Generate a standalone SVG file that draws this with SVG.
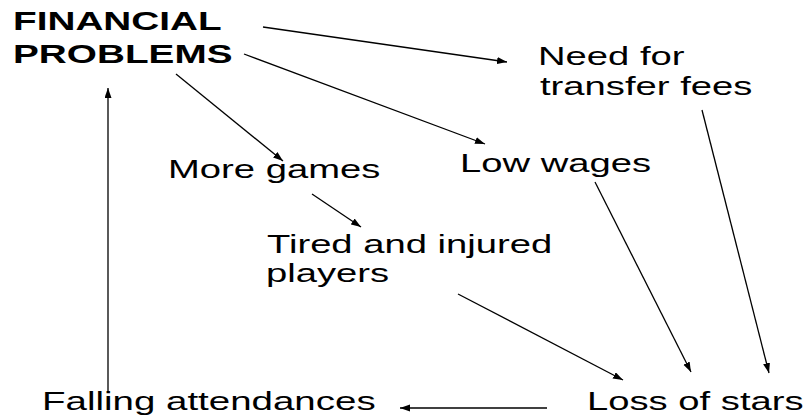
<svg xmlns="http://www.w3.org/2000/svg" width="809" height="419" viewBox="0 0 809 419">
<style>
.t{font-family:"Liberation Sans",Arial,sans-serif;font-size:26px;fill:#000}
.b{font-weight:bold}
.c line{stroke:#000;stroke-width:1.3;marker-end:url(#ah)}
</style>
<defs>
<marker id="ah" markerUnits="userSpaceOnUse" markerWidth="11" markerHeight="8" refX="10" refY="3.5" orient="auto">
<path d="M0,0 L10,3.5 L0,7 z" fill="#000"/>
</marker>
</defs>
<rect width="809" height="419" fill="#fff"/>
<g id="financial-problems">
<text class="t b" transform="translate(13,30) scale(1.49,1)">FINANCIAL</text>
<text class="t b" transform="translate(13,63) scale(1.49,1)">PROBLEMS</text>
</g>
<g id="need-for-transfer-fees">
<text class="t" transform="translate(538,65) scale(1.47,1)">Need for</text>
<text class="t" transform="translate(540,95) scale(1.47,1)">transfer fees</text>
</g>
<g id="more-games">
<text class="t" transform="translate(168,178) scale(1.47,1)">More games</text>
</g>
<g id="low-wages">
<text class="t" transform="translate(460,172) scale(1.47,1)">Low wages</text>
</g>
<g id="tired-injured">
<text class="t" transform="translate(267,253) scale(1.47,1)">Tired and injured</text>
<text class="t" transform="translate(266,282) scale(1.47,1)">players</text>
</g>
<g id="falling-attendances">
<text class="t" transform="translate(42,410) scale(1.48,1)">Falling attendances</text>
</g>
<g id="loss-of-stars">
<text class="t" transform="translate(587,410) scale(1.47,1)">Loss of stars</text>
</g>
<g id="connectors" class="c">
<line x1="263" y1="27" x2="507" y2="62"/>
<line x1="244" y1="54" x2="485" y2="144"/>
<line x1="176" y1="74" x2="283" y2="161"/>
<line x1="312" y1="194" x2="361" y2="227"/>
<line x1="458" y1="294" x2="623" y2="380"/>
<line x1="595" y1="182" x2="691" y2="372"/>
<line x1="702" y1="110" x2="769" y2="373"/>
<line x1="547" y1="408" x2="400" y2="408"/>
<line x1="108" y1="393" x2="108" y2="88"/>
</g>
</svg>
